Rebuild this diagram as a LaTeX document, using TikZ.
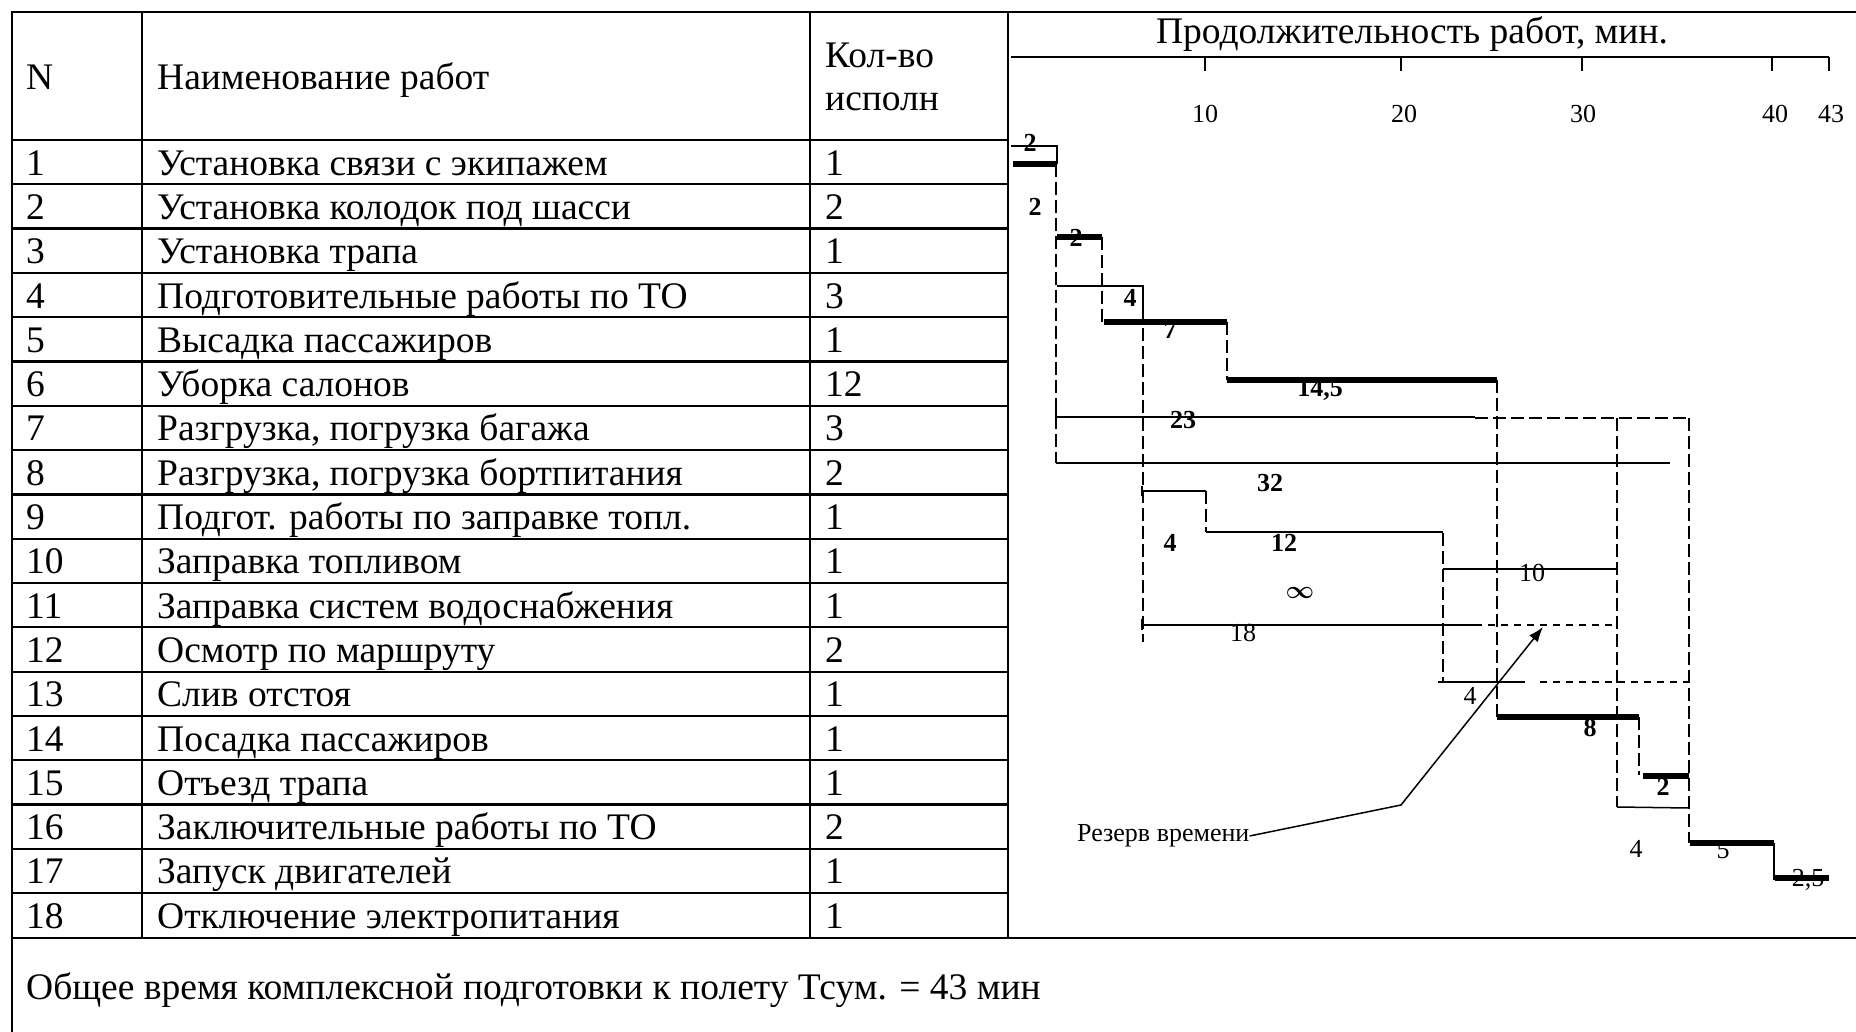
\documentclass[tikz,border=0pt]{standalone}
\usepackage{fontspec}
\setmainfont{Liberation Serif}
\usetikzlibrary{arrows.meta}
\newcommand\tabf{\fontsize{37.5}{42}\selectfont}
\newcommand\labf{\fontsize{26}{30}\selectfont}
\tikzset{
  frame/.style={line width=2.2pt},
  thinl/.style={line width=1.5pt},
  thickbar/.style={line width=5.5pt},
  longdash/.style={line width=1.6pt, dash pattern=on 13pt off 5pt},
  shortdash/.style={line width=1.5pt, dash pattern=on 7pt off 6pt},
  cell/.style={anchor=base west, inner sep=0pt, font=\tabf},
  blab/.style={inner sep=0pt, font=\labf\bfseries},
  rlab/.style={inner sep=0pt, font=\labf},
}
\begin{document}
\begin{tikzpicture}[x=1pt,y=-1pt]
\useasboundingbox (0,0) rectangle (1856,1032);
% frame
\draw[frame] (12,1032) -- (12,12) -- (1856,12);
\draw[frame] (12,938) -- (1856,938);
\draw[frame] (142,12) -- (142,938);
\draw[frame] (810,12) -- (810,938);
\draw[frame] (1008,12) -- (1008,938);
\draw[frame] (12,140) -- (1008,140);
\foreach \k in {1,...,17} {
  \draw[frame] (12,{140+44.3*\k}) -- (1008,{140+44.3*\k});
}
% header
\node[cell] (hN) at (26,90) {N};
\node[cell] (hName) at (157,90) {Наименование работ};
\node[cell] (hK1) at (825,68) {Кол-во};
\node[cell] (hK2) at (825,111) {исполн};
% rows
\foreach \i/\name/\cnt in {
 1/Установка связи с экипажем/1,
 2/Установка колодок под шасси/2,
 3/Установка трапа/1,
 4/Подготовительные работы по ТО/3,
 5/Высадка пассажиров/1,
 6/Уборка салонов/12,
 7/{Разгрузка, погрузка багажа}/3,
 8/{Разгрузка, погрузка бортпитания}/2,
 9/Подгот. работы по заправке топл./1,
 10/Заправка топливом/1,
 11/Заправка систем водоснабжения/1,
 12/Осмотр по маршруту/2,
 13/Слив отстоя/1,
 14/Посадка пассажиров/1,
 15/Отъезд трапа/1,
 16/Заключительные работы по ТО/2,
 17/Запуск двигателей/1,
 18/Отключение электропитания/1} {
  \node[cell] (n\i) at (26,{140+44.3*(\i-0.5)+13}) {\i};
  \node[cell] (w\i) at (157,{140+44.3*(\i-0.5)+13}) {\name};
  \node[cell] (c\i) at (825,{140+44.3*(\i-0.5)+13}) {\cnt};
}
% footer
\node[cell] (foot) at (26,999) {Общее время комплексной подготовки к полету Тсум. = 43 мин};
% axis
\node[inner sep=0pt, font=\fontsize{37.5}{42}\selectfont] (title) at (1412,34) {Продолжительность работ, мин.};
\draw[thinl] (1011,57) -- (1829,57);
\foreach \x/\t in {1205/10,1401/20,1582/30,1772/40,1829/43} {
  \draw[thinl] (\x,57) -- (\x,71);
}
\node[rlab] (t10) at (1205,114) {10};
\node[rlab] (t20) at (1404,114) {20};
\node[rlab] (t30) at (1583,114) {30};
\node[rlab] (t40) at (1775,114) {40};
\node[rlab] (t43) at (1831,114) {43};
% dashed links
\draw[longdash] (1056,164) -- (1056,463);
\draw[longdash] (1102,237) -- (1102,322);
\draw[longdash] (1143,310) -- (1143,642);
\draw[longdash] (1227,322) -- (1227,380);
\draw[longdash] (1497,380) -- (1497,717);
\draw[longdash] (1206,491) -- (1206,532);
\draw[longdash] (1443,533) -- (1443,682);
\draw[longdash] (1617,418) -- (1617,807);
\draw[longdash] (1689,418) -- (1689,843);
\draw[longdash] (1639,717) -- (1639,775);
\draw[longdash] (1475,418) -- (1689,418);
\draw[shortdash] (1475,625) -- (1617,625);
\draw[shortdash] (1540,682) -- (1689,682);
% tasks
\draw[thinl] (1011,146) -- (1057,146) -- (1057,164);
\draw[thickbar] (1013,164) -- (1057,164);
\node[blab] (l1) at (1030,143) {2};
\node[blab] (l2) at (1035,207) {2};
\draw[thickbar] (1057,237) -- (1102,237);
\node[blab] (l3) at (1076,238) {2};
\draw[thinl] (1057,286) -- (1143,286) -- (1143,310);
\node[blab] (l4) at (1130,298) {4};
\draw[thickbar] (1104,322) -- (1227,322);
\node[blab] (l5) at (1170,330) {7};
\draw[thickbar] (1227,380) -- (1497,380);
\node[blab] (l6) at (1320,390) {14,5};
\draw[thinl] (1056,410) -- (1056,424);
\draw[thinl] (1056,417) -- (1475,417);
\node[blab] (l7) at (1183,420) {23};
\draw[thinl] (1056,463) -- (1670,463);
\node[blab] (l8) at (1270,483) {32};
\draw[thinl] (1142,486) -- (1142,496);
\draw[thinl] (1142,491) -- (1206,491);
\node[blab] (l9) at (1170,543) {4};
\draw[thinl] (1206,532) -- (1443,532);
\node[blab] (l10) at (1284,543) {12};
\draw[thinl] (1443,569) -- (1617,569);
\node[rlab] (l11) at (1532,573) {10};
\node[inner sep=0pt, font=\fontsize{54}{56}\selectfont\boldmath] (inf) at (1300,593) {$\infty$};
\draw[thinl] (1142,619) -- (1142,630);
\draw[thinl] (1142,625) -- (1475,625);
\node[rlab] (l12) at (1243,633) {18};
\draw[thinl] (1438,682) -- (1525,682);
\node[rlab] (l13) at (1470,696) {4};
\draw[thickbar] (1497,717) -- (1639,717);
\node[blab] (l14) at (1590,728) {8};
\draw[thickbar] (1643,776) -- (1689,776);
\node[blab] (l15) at (1663,787) {2};
\draw[thinl] (1617,807) -- (1689,808);
\node[rlab] (l16) at (1636,849) {4};
\draw[thickbar] (1690,843) -- (1774,843);
\node[rlab] (l17) at (1723,850) {5};
\draw[thinl] (1774,843) -- (1774,880);
\draw[thickbar] (1775,878) -- (1829,878);
\node[rlab] (l18) at (1808,880) {2,5};
% reserve annotation
\node[anchor=west, inner sep=0pt, font=\fontsize{26}{30}\selectfont] (res) at (1077,836) {Резерв времени};
\coordinate (kink) at (1401,805);
\coordinate (tip) at (1543,627);
\draw[thinl, -{Latex[length=15pt,width=11pt]}] (res.east) -- (kink) -- (tip);
\end{tikzpicture}
\end{document}
